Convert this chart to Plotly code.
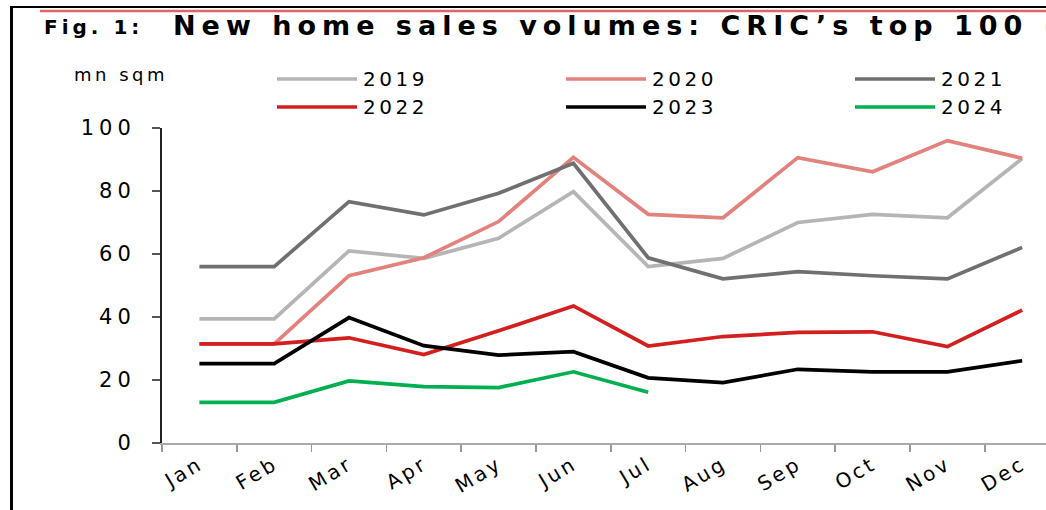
import plotly.graph_objects as go

# ---------------- data ----------------
months = ["Jan", "Feb", "Mar", "Apr", "May", "Jun", "Jul", "Aug", "Sep", "Oct", "Nov", "Dec"]
years = ["2019", "2020", "2021", "2022", "2023", "2024"]
v2019 = [39.4, 39.4, 61.0, 58.6, 65.0, 79.8, 56.0, 58.6, 70.0, 72.6, 71.5, 90.3]
v2020 = [31.5, 31.5, 53.1, 58.8, 70.3, 90.7, 72.6, 71.5, 90.6, 86.1, 96.0, 90.4]
v2021 = [56.0, 56.0, 76.6, 72.4, 79.3, 88.8, 58.8, 52.1, 54.4, 53.1, 52.1, 62.1]
v2022 = [31.5, 31.5, 33.4, 28.1, 35.6, 43.5, 30.8, 33.8, 35.1, 35.3, 30.6, 42.2]
v2023 = [25.2, 25.2, 39.8, 30.9, 27.9, 29.0, 20.7, 19.2, 23.4, 22.6, 22.6, 26.1]
v2024 = [12.9, 12.9, 19.7, 17.9, 17.6, 22.6, 16.1]
ytick_vals = [0, 20, 40, 60, 80, 100]
ytick_text = ["0", "20", "40", "60", "80", "100"]
title_prefix = "Fig. 1:"
title_main = "New home sales volumes: CRIC\u2019s top 100 ("
unit_label = "mn sqm"

series = [v2019, v2020, v2021, v2022, v2023, v2024]
colors = ["#b5b5b5", "#e3817c", "#707070", "#d3201f", "#000000", "#00b050"]

# ---------------- layout helpers ----------------
W, H = 1046, 510
ML, MR, MT, MB = 162, 0, 128, 67
PW, PH = W - ML - MR, H - MT - MB


def px(x):
    return (x - ML) / PW


def py(y):
    return (H - MB - y) / PH


def spaced(s, ls):
    return f'<span style="letter-spacing:{ls}px">{s}</span>'


FONT = "DejaVu Sans"

fig = go.Figure()
for name, vals, col in zip(years, series, colors):
    fig.add_trace(go.Scatter(
        x=months[:len(vals)], y=vals, mode="lines", name=name,
        line=dict(color=col, width=3.7), showlegend=False,
        hoverinfo="skip"))

shapes = []
annotations = []

# frame lines (black top + left, red rule)
shapes.append(dict(type="line", xref="paper", yref="paper",
                   x0=px(10), x1=px(W + 5), y0=py(7), y1=py(7),
                   line=dict(color="#000000", width=2)))
shapes.append(dict(type="line", xref="paper", yref="paper",
                   x0=px(11.5), x1=px(11.5), y0=py(6), y1=py(H + 5),
                   line=dict(color="#000000", width=3)))
shapes.append(dict(type="line", xref="paper", yref="paper",
                   x0=px(40), x1=px(W + 5), y0=py(11), y1=py(11),
                   line=dict(color="#e06666", width=2.5)))

# title
annotations.append(dict(xref="paper", yref="paper", x=px(42), y=py(26.5),
                        xanchor="left", yanchor="middle", showarrow=False,
                        text="<b>" + spaced(title_prefix, 4) + "</b>",
                        font=dict(family=FONT, size=20, color="#000")))
annotations.append(dict(xref="paper", yref="paper", x=px(171), y=py(25),
                        xanchor="left", yanchor="middle", showarrow=False,
                        text="<b>" + spaced(title_main, 6.0) + "</b>",
                        font=dict(family=FONT, size=27, color="#000")))

# unit label
annotations.append(dict(xref="paper", yref="paper", x=px(72), y=py(75),
                        xanchor="left", yanchor="middle", showarrow=False,
                        text=spaced(unit_label, 3.5),
                        font=dict(family=FONT, size=18, color="#000")))

# manual legend (long line samples like the reference)
col_x = [277, 566, 855]
row_y = [79, 107]
for i, (name, col) in enumerate(zip(years, colors)):
    x0 = col_x[i % 3]
    y0 = row_y[i // 3]
    shapes.append(dict(type="line", xref="paper", yref="paper",
                       x0=px(x0), x1=px(x0 + 80), y0=py(y0), y1=py(y0),
                       line=dict(color=col, width=3.7)))
    annotations.append(dict(xref="paper", yref="paper", x=px(x0 + 84), y=py(y0),
                            xanchor="left", yanchor="middle", showarrow=False,
                            text=spaced(name, 3.5),
                            font=dict(family=FONT, size=20, color="#000")))

fig.update_layout(
    width=W, height=H,
    margin=dict(l=ML, r=MR, t=MT, b=MB, pad=0),
    paper_bgcolor="white", plot_bgcolor="white",
    showlegend=False,
    shapes=shapes, annotations=annotations,
    xaxis=dict(
        type="category", categoryorder="array", categoryarray=months,
        range=[-0.5, -0.5 + PW / 74.8],
        tickmode="array", tickvals=months,
        ticktext=[spaced(m, 3) for m in months],
        tickson="boundaries", ticks="outside", ticklen=7, tickwidth=1.5,
        tickcolor="#999999", tickangle=-31,
        tickfont=dict(family=FONT, size=20, color="#000"),
        showline=True, linecolor="#aaaaaa", linewidth=2,
        showgrid=False, zeroline=False, fixedrange=True),
    yaxis=dict(
        range=[0, 100],
        tickmode="array", tickvals=ytick_vals,
        ticktext=[spaced(t, 5) for t in ytick_text],
        ticks="outside", ticklen=8, tickwidth=1.5, tickcolor="#555555",
        ticklabelstandoff=12,
        tickfont=dict(family=FONT, size=21, color="#000"),
        showline=True, linecolor="#222222", linewidth=2,
        showgrid=False, zeroline=False, fixedrange=True),
)

fig.write_html("out.html",
               config={"displayModeBar": False, "staticPlot": True},
               post_script="document.body.style.margin='0';"
                           "document.body.style.overflow='hidden';")
